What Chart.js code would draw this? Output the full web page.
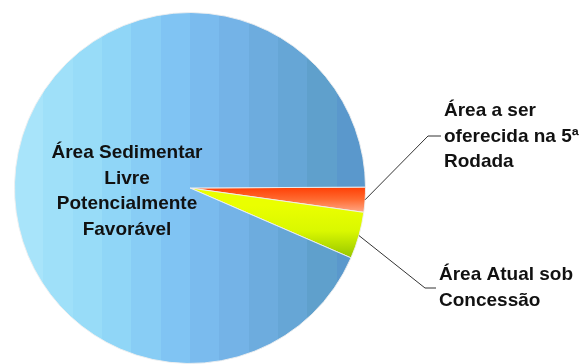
<!DOCTYPE html>
<html>
<head>
<meta charset="utf-8">
<script src="https://cdn.jsdelivr.net/npm/chart.js@4"></script>
<style>
  body { margin: 0; background: #fff; overflow: hidden; }
  canvas { display: block; }
</style>
</head>
<body>
<canvas id="areaChart" width="582" height="364"></canvas>
<script>
// Data (share of the area, %)
const categories = [
  "Área a ser oferecida na 5ª Rodada",
  "Área Atual sob Concessão",
  "Área Sedimentar Livre Potencialmente Favorável",
];
const shares = [2.3, 4.3, 93.4];
const labelLines = [
  ["Área a ser", "oferecida na 5ª", "Rodada"],
  ["Área Atual sob", "Concessão"],
  ["Área Sedimentar", "Livre", "Potencialmente", "Favorável"],
];

// Where the labels sit and how the leader lines bend
const labelLayout = [
  { x: 444, y: 116, align: "left", elbow: [428, 136], end: 441 },
  { x: 439, y: 280, align: "left", elbow: [425, 288], end: 436 },
  { x: 127, y: 158, align: "center" },
];

// Vertical colour bands of the big slice, left to right
const blueBands = [
  "#a8e4fa", "#9fe0f9", "#98dcf8", "#90d6f7", "#88cdf5", "#80c4f3",
  "#7abbee", "#74b3e7", "#6dacde", "#66a6d6", "#5fa0cc", "#5a98cc",
];

function sliceColor(context) {
  const chart = context.chart;
  const area = chart.chartArea;
  const fallback = ["#ff5a20", "#d8f000", "#86c8f0"][context.dataIndex];
  if (!area) return fallback;
  const ctx = chart.ctx;
  const cx = (area.left + area.right) / 2;
  const cy = (area.top + area.bottom) / 2;
  const r = Math.min(area.width, area.height) / 2;

  if (context.dataIndex === 0) {
    const g = ctx.createLinearGradient(0, cy - 2, 0, cy + r * 0.14);
    g.addColorStop(0, "#ff3a00");
    g.addColorStop(0.5, "#ff6a30");
    g.addColorStop(1, "#ffaa8a");
    return g;
  }
  if (context.dataIndex === 1) {
    const g = ctx.createLinearGradient(0, cy + r * 0.1, 0, cy + r * 0.42);
    g.addColorStop(0, "#eaff00");
    g.addColorStop(0.45, "#daf800");
    g.addColorStop(1, "#8cbe00");
    return g;
  }
  const g = ctx.createLinearGradient(cx - r, 0, cx + r, 0);
  const n = blueBands.length;
  blueBands.forEach((c, i) => {
    g.addColorStop(i / n, c);
    g.addColorStop((i + 1) / n - 0.0001, c);
  });
  return g;
}

// Labels and leader lines
const labelPlugin = {
  id: "sliceLabels",
  afterDatasetsDraw(chart) {
    const ctx = chart.ctx;
    const arcs = chart.getDatasetMeta(0).data;
    ctx.save();
    ctx.font = "bold 19px 'Liberation Sans', Arial, sans-serif";
    ctx.fillStyle = "#111";
    ctx.textBaseline = "alphabetic";

    labelLines.forEach((lines, i) => {
      const pos = labelLayout[i];
      if (pos.elbow) {
        const arc = arcs[i];
        const mid = (arc.startAngle + arc.endAngle) / 2;
        const sx = arc.x + Math.cos(mid) * arc.outerRadius;
        const sy = arc.y + Math.sin(mid) * arc.outerRadius;
        ctx.beginPath();
        ctx.strokeStyle = "#333";
        ctx.lineWidth = 1;
        ctx.moveTo(sx, sy);
        ctx.lineTo(pos.elbow[0], pos.elbow[1]);
        ctx.lineTo(pos.end, pos.elbow[1]);
        ctx.stroke();
      }
      ctx.textAlign = pos.align;
      lines.forEach((line, k) => {
        ctx.fillText(line, pos.x, pos.y + k * 25.6);
      });
    });
    ctx.restore();
  },
};

new Chart(document.getElementById("areaChart"), {
  type: "pie",
  data: {
    labels: categories,
    datasets: [
      {
        data: shares,
        backgroundColor: sliceColor,
        borderColor: "rgba(240, 240, 240, 0.9)",
        borderWidth: 1,
      },
    ],
  },
  options: {
    responsive: false,
    animation: false,
    rotation: 89.7,
    layout: {
      padding: { top: 12, bottom: 0, left: 14, right: 216 },
    },
    plugins: {
      legend: { display: false },
      tooltip: { enabled: false },
    },
  },
  plugins: [labelPlugin],
});
</script>
</body>
</html>
